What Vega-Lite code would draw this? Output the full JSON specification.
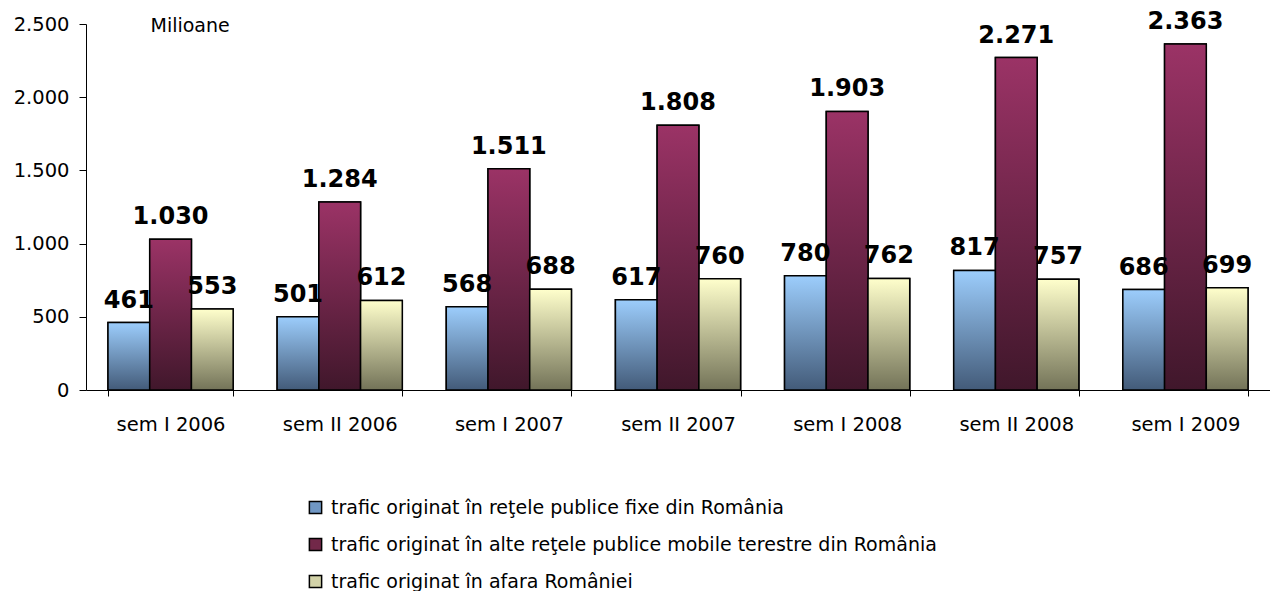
{
  "$schema": "https://vega.github.io/schema/vega-lite/v6.json",
  "width": 1184,
  "height": 366,
  "autosize": {"type": "none"},
  "padding": {"left": 86, "top": 24, "right": 0, "bottom": 201},
  "background": "white",
  "config": {
    "locale": {"number": {"decimal": ",", "thousands": ".", "grouping": [3], "currency": ["", ""]}},
    "view": {"stroke": null},
    "font": "DejaVu Sans"
  },
  "data": {
    "values": [
      {"perioada": "sem I 2006", "serie": "trafic originat în reţele publice fixe din România", "valoare": 461},
      {"perioada": "sem I 2006", "serie": "trafic originat în alte reţele publice mobile terestre din România", "valoare": 1030},
      {"perioada": "sem I 2006", "serie": "trafic originat în afara României", "valoare": 553},
      {"perioada": "sem II 2006", "serie": "trafic originat în reţele publice fixe din România", "valoare": 501},
      {"perioada": "sem II 2006", "serie": "trafic originat în alte reţele publice mobile terestre din România", "valoare": 1284},
      {"perioada": "sem II 2006", "serie": "trafic originat în afara României", "valoare": 612},
      {"perioada": "sem I 2007", "serie": "trafic originat în reţele publice fixe din România", "valoare": 568},
      {"perioada": "sem I 2007", "serie": "trafic originat în alte reţele publice mobile terestre din România", "valoare": 1511},
      {"perioada": "sem I 2007", "serie": "trafic originat în afara României", "valoare": 688},
      {"perioada": "sem II 2007", "serie": "trafic originat în reţele publice fixe din România", "valoare": 617},
      {"perioada": "sem II 2007", "serie": "trafic originat în alte reţele publice mobile terestre din România", "valoare": 1808},
      {"perioada": "sem II 2007", "serie": "trafic originat în afara României", "valoare": 760},
      {"perioada": "sem I 2008", "serie": "trafic originat în reţele publice fixe din România", "valoare": 780},
      {"perioada": "sem I 2008", "serie": "trafic originat în alte reţele publice mobile terestre din România", "valoare": 1903},
      {"perioada": "sem I 2008", "serie": "trafic originat în afara României", "valoare": 762},
      {"perioada": "sem II 2008", "serie": "trafic originat în reţele publice fixe din România", "valoare": 817},
      {"perioada": "sem II 2008", "serie": "trafic originat în alte reţele publice mobile terestre din România", "valoare": 2271},
      {"perioada": "sem II 2008", "serie": "trafic originat în afara României", "valoare": 757},
      {"perioada": "sem I 2009", "serie": "trafic originat în reţele publice fixe din România", "valoare": 686},
      {"perioada": "sem I 2009", "serie": "trafic originat în alte reţele publice mobile terestre din România", "valoare": 2363},
      {"perioada": "sem I 2009", "serie": "trafic originat în afara României", "valoare": 699}
    ]
  },
  "encoding": {
    "x": {
      "field": "perioada",
      "type": "nominal",
      "sort": ["sem I 2006", "sem II 2006", "sem I 2007", "sem II 2007", "sem I 2008", "sem II 2008", "sem I 2009"],
      "scale": {"paddingInner": 0.26, "paddingOuter": 0.13},
      "axis": {
        "title": null,
        "labelAngle": 0,
        "tickBand": "extent",
        "domainColor": "black",
        "tickColor": "black",
        "tickSize": 6,
        "labelFontSize": 19.5,
        "labelColor": "black",
        "labelPadding": 19,
        "grid": false
      }
    },
    "xOffset": {
      "field": "serie",
      "type": "nominal",
      "sort": ["trafic originat în reţele publice fixe din România", "trafic originat în alte reţele publice mobile terestre din România", "trafic originat în afara României"]
    },
    "y": {
      "field": "valoare",
      "type": "quantitative",
      "scale": {"domain": [0, 2500], "nice": false},
      "axis": {
        "values": [0, 500, 1000, 1500, 2000, 2500],
        "format": ",d",
        "grid": false,
        "domainColor": "black",
        "tickColor": "black",
        "tickSize": 7,
        "labelFontSize": 19.5,
        "labelColor": "black",
        "labelPadding": 10,
        "title": "Milioane",
        "titleAngle": 0,
        "titleAlign": "left",
        "titleBaseline": "middle",
        "titleX": 64,
        "titleY": 1,
        "titleFontWeight": "normal",
        "titleFontSize": 19,
        "titleColor": "black"
      }
    }
  },
  "layer": [
    {
      "mark": {"type": "bar", "stroke": "black", "strokeWidth": 1.5},
      "encoding": {
        "color": {
          "field": "serie",
          "type": "nominal",
          "sort": ["trafic originat în reţele publice fixe din România", "trafic originat în alte reţele publice mobile terestre din România", "trafic originat în afara României"],
          "scale": {"range": ["#7097C4", "#722849", "#D2D2A8"]},
          "legend": {
            "orient": "none",
            "legendX": 220,
            "legendY": 474,
            "direction": "vertical",
            "title": null,
            "padding": 0,
            "labelFontSize": 19,
            "labelColor": "black",
            "labelLimit": 0,
            "labelOffset": 6,
            "symbolType": "square",
            "symbolSize": 150,
            "symbolOpacity": 1,
            "rowPadding": 17,
            "encode": {
              "symbols": {
                "stroke": {"value": "black"},
                "strokeWidth": {"value": 1.5}
              }
            }
          }
        }
      }
    },
    {
      "transform": [{"filter": "datum.serie === 'trafic originat în reţele publice fixe din România'"}],
      "mark": {"type": "bar", "stroke": "black", "strokeWidth": 1.5, "color": {"gradient": "linear", "x1": 0, "y1": 0, "x2": 0, "y2": 1, "stops": [{"offset": 0, "color": "#9CCDFC"}, {"offset": 1, "color": "#435B79"}]}}
    },
    {
      "transform": [{"filter": "datum.serie === 'trafic originat în alte reţele publice mobile terestre din România'"}],
      "mark": {"type": "bar", "stroke": "black", "strokeWidth": 1.5, "color": {"gradient": "linear", "x1": 0, "y1": 0, "x2": 0, "y2": 1, "stops": [{"offset": 0, "color": "#9B3366"}, {"offset": 1, "color": "#40172B"}]}}
    },
    {
      "transform": [{"filter": "datum.serie === 'trafic originat în afara României'"}],
      "mark": {"type": "bar", "stroke": "black", "strokeWidth": 1.5, "color": {"gradient": "linear", "x1": 0, "y1": 0, "x2": 0, "y2": 1, "stops": [{"offset": 0, "color": "#FFFFCC"}, {"offset": 1, "color": "#737358"}]}}
    },
    {
      "mark": {"type": "text", "dy": -15, "baseline": "alphabetic", "align": "center", "fontSize": 24, "fontWeight": "bold", "color": "black"},
      "encoding": {
        "text": {"field": "valoare", "type": "quantitative", "format": ",d"}
      }
    }
  ]
}
